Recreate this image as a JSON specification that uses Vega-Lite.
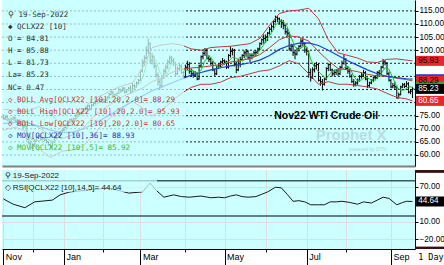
{
"$schema":"https://vega.github.io/schema/vega-lite/v6.json",
"padding":0,
"background":"white",
"spacing":4,
"config":{"view":{"stroke":null,"fill":"#ccffff"}},
"datasets":{
"ohlc":[
{"i":-31,"o":74.5,"h":75.5,"l":73.6,"c":74.0},{"i":-30,"o":74.0,"h":75.2,"l":73.5,"c":74.5},{"i":-29,"o":74.5,"h":75.0,"l":73.0,"c":73.5},{"i":-28,"o":73.5,"h":74.0,"l":72.2,"c":72.8},{"i":-27,"o":72.8,"h":74.2,"l":72.5,"c":73.6},{"i":-26,"o":73.6,"h":74.8,"l":73.2,"c":74.2},{"i":-25,"o":74.2,"h":74.5,"l":72.6,"c":73.0},{"i":-24,"o":73.0,"h":73.4,"l":71.3,"c":71.8},{"i":-23,"o":71.8,"h":73.0,"l":71.5,"c":72.5},{"i":-22,"o":72.5,"h":72.9,"l":71.0,"c":71.5},{"i":-21,"o":71.5,"h":71.8,"l":70.2,"c":70.8},{"i":-20,"o":70.8,"h":72.0,"l":70.5,"c":71.5},{"i":-19,"o":71.0,"h":71.2,"l":65.5,"c":66.0},{"i":-18,"o":66.0,"h":67.5,"l":64.0,"c":64.5},{"i":-17,"o":64.5,"h":65.5,"l":62.0,"c":62.8},{"i":-16,"o":62.8,"h":64.5,"l":62.2,"c":63.5},{"i":-15,"o":63.5,"h":66.0,"l":63.2,"c":65.5},{"i":-14,"o":65.5,"h":67.3,"l":65.0,"c":66.8},{"i":-13,"o":66.8,"h":67.8,"l":66.2,"c":67.2},{"i":-12,"o":67.2,"h":67.5,"l":65.5,"c":66.0},{"i":-11,"o":66.0,"h":67.0,"l":65.6,"c":66.5},{"i":-10,"o":66.5,"h":66.9,"l":65.2,"c":65.8},{"i":-9,"o":65.8,"h":66.2,"l":64.5,"c":65.0},{"i":-8,"o":65.0,"h":65.4,"l":63.5,"c":64.0},{"i":-7,"o":64.0,"h":64.3,"l":62.5,"c":63.0},{"i":-6,"o":63.0,"h":65.4,"l":62.8,"c":65.0},{"i":-5,"o":65.0,"h":66.9,"l":64.7,"c":66.5},{"i":-4,"o":66.5,"h":67.9,"l":66.2,"c":67.5},{"i":-3,"o":67.5,"h":68.5,"l":67.0,"c":68.0},{"i":-2,"o":68.0,"h":69.2,"l":67.6,"c":68.8},{"i":-1,"o":68.8,"h":69.9,"l":68.3,"c":69.5},
{"i":0,"o":69.5,"h":70.9,"l":69.0,"c":70.5},{"i":1,"o":70.5,"h":71.7,"l":70.0,"c":71.3},{"i":2,"o":71.3,"h":72.9,"l":71.0,"c":72.5},{"i":3,"o":72.5,"h":73.9,"l":72.0,"c":73.5},{"i":4,"o":73.5,"h":74.0,"l":72.5,"c":73.0},{"i":5,"o":73.0,"h":74.2,"l":72.7,"c":73.8},{"i":6,"o":73.8,"h":75.4,"l":73.5,"c":75.0},{"i":7,"o":75.0,"h":75.9,"l":74.6,"c":75.5},{"i":8,"o":75.5,"h":76.3,"l":75.0,"c":75.8},{"i":9,"o":75.8,"h":76.9,"l":75.4,"c":76.5},{"i":10,"o":76.5,"h":77.9,"l":76.2,"c":77.5},{"i":11,"o":77.5,"h":78.5,"l":77.0,"c":78.0},{"i":12,"o":78.0,"h":79.2,"l":77.6,"c":78.8},{"i":13,"o":78.8,"h":79.1,"l":77.0,"c":77.5},{"i":14,"o":77.5,"h":79.4,"l":77.2,"c":79.0},{"i":15,"o":79.0,"h":80.2,"l":78.6,"c":79.8},{"i":16,"o":79.8,"h":80.9,"l":79.4,"c":80.5},{"i":17,"o":80.5,"h":81.5,"l":80.0,"c":81.0},{"i":18,"o":81.0,"h":81.3,"l":79.8,"c":80.2},{"i":19,"o":80.2,"h":81.4,"l":79.9,"c":81.0},
{"i":20,"o":81.0,"h":81.5,"l":80.0,"c":80.5},{"i":21,"o":80.5,"h":81.4,"l":80.1,"c":81.0},{"i":22,"o":81.0,"h":82.4,"l":80.7,"c":82.0},{"i":23,"o":82.0,"h":83.6,"l":81.7,"c":83.2},{"i":24,"o":83.2,"h":84.5,"l":82.8,"c":84.0},{"i":25,"o":84.0,"h":84.3,"l":82.0,"c":82.5},{"i":26,"o":82.5,"h":83.4,"l":82.1,"c":83.0},{"i":27,"o":83.0,"h":83.9,"l":82.6,"c":83.5},{"i":28,"o":83.5,"h":85.5,"l":83.2,"c":85.0},{"i":29,"o":85.0,"h":85.3,"l":84.0,"c":84.5},{"i":30,"o":84.5,"h":86.0,"l":84.2,"c":85.5},{"i":31,"o":85.5,"h":85.8,"l":83.5,"c":84.0},{"i":32,"o":84.0,"h":85.2,"l":83.6,"c":84.8},{"i":33,"o":84.8,"h":86.0,"l":84.4,"c":85.5},{"i":34,"o":85.5,"h":86.5,"l":83.2,"c":84.0},{"i":35,"o":84.0,"h":87.5,"l":83.8,"c":86.5},{"i":36,"o":86.5,"h":87.0,"l":85.2,"c":86.0},{"i":37,"o":86.0,"h":88.0,"l":85.7,"c":87.5},{"i":38,"o":87.5,"h":89.0,"l":87.0,"c":88.5},
{"i":39,"o":88.5,"h":92.5,"l":88.0,"c":92.0},{"i":40,"o":92.0,"h":96.5,"l":91.5,"c":95.5},{"i":41,"o":95.5,"h":98.0,"l":94.0,"c":97.0},{"i":42,"o":97.0,"h":101.5,"l":96.5,"c":100.0},{"i":43,"o":100.0,"h":104.5,"l":98.5,"c":102.5},{"i":44,"o":102.5,"h":103.0,"l":95.0,"c":96.0},{"i":45,"o":96.0,"h":99.0,"l":94.5,"c":97.5},{"i":46,"o":97.5,"h":98.0,"l":93.0,"c":94.0},{"i":47,"o":94.0,"h":94.5,"l":89.5,"c":90.5},{"i":48,"o":90.5,"h":91.5,"l":86.5,"c":88.0},{"i":49,"o":88.0,"h":89.0,"l":85.0,"c":86.5},{"i":50,"o":86.5,"h":90.5,"l":85.5,"c":89.5},{"i":51,"o":89.5,"h":93.0,"l":89.0,"c":92.0},{"i":52,"o":92.0,"h":94.5,"l":91.0,"c":93.5},{"i":53,"o":93.5,"h":96.5,"l":92.8,"c":95.5},{"i":54,"o":95.5,"h":98.0,"l":94.5,"c":97.0},{"i":55,"o":97.0,"h":97.8,"l":95.0,"c":96.0},{"i":56,"o":96.0,"h":97.0,"l":94.0,"c":95.0},{"i":57,"o":95.0,"h":95.5,"l":90.0,"c":91.0},{"i":58,"o":91.0,"h":93.8,"l":90.5,"c":93.0},{"i":59,"o":93.0,"h":95.0,"l":92.0,"c":94.0},{"i":60,"o":94.0,"h":94.5,"l":91.0,"c":91.5},{"i":61,"o":91.5,"h":92.0,"l":89.0,"c":89.8},
{"i":62,"o":90.0,"h":94.5,"l":89.5,"c":93.5},{"i":63,"o":93.5,"h":96.0,"l":92.5,"c":94.5},{"i":64,"o":94.5,"h":95.5,"l":91.0,"c":92.0},{"i":65,"o":92.0,"h":93.0,"l":89.8,"c":91.0},{"i":66,"o":91.0,"h":92.0,"l":89.5,"c":90.5},{"i":67,"o":90.5,"h":92.0,"l":89.8,"c":91.2},{"i":68,"o":91.2,"h":91.5,"l":88.5,"c":89.0},{"i":69,"o":89.0,"h":94.5,"l":88.8,"c":94.0},{"i":70,"o":94.0,"h":98.0,"l":93.5,"c":97.5},{"i":71,"o":97.5,"h":99.5,"l":96.5,"c":98.8},{"i":72,"o":98.8,"h":100.8,"l":97.8,"c":100.0},{"i":73,"o":100.0,"h":100.5,"l":96.5,"c":97.0},{"i":74,"o":97.0,"h":98.0,"l":95.5,"c":96.5},{"i":75,"o":96.5,"h":97.2,"l":94.2,"c":95.0},{"i":76,"o":95.0,"h":95.8,"l":92.0,"c":92.5},{"i":77,"o":92.5,"h":93.0,"l":90.2,"c":91.0},{"i":78,"o":91.0,"h":94.2,"l":90.5,"c":93.8},{"i":79,"o":93.8,"h":95.0,"l":92.8,"c":94.0},{"i":80,"o":94.0,"h":96.0,"l":93.2,"c":95.5},{"i":81,"o":95.5,"h":97.0,"l":94.8,"c":96.0},
{"i":82,"o":96.0,"h":96.5,"l":94.5,"c":95.5},{"i":83,"o":95.5,"h":96.0,"l":92.8,"c":93.5},{"i":84,"o":93.5,"h":98.5,"l":93.0,"c":98.0},{"i":85,"o":98.0,"h":101.5,"l":97.2,"c":99.5},{"i":86,"o":99.5,"h":100.8,"l":98.0,"c":100.0},{"i":87,"o":100.0,"h":100.5,"l":93.8,"c":94.5},{"i":88,"o":94.5,"h":95.5,"l":91.2,"c":92.5},{"i":89,"o":92.5,"h":96.8,"l":92.0,"c":96.0},{"i":90,"o":96.0,"h":97.5,"l":93.5,"c":96.5},{"i":91,"o":96.5,"h":98.5,"l":95.8,"c":98.0},{"i":92,"o":98.0,"h":99.8,"l":97.0,"c":99.0},{"i":93,"o":99.0,"h":100.5,"l":97.5,"c":99.5},{"i":94,"o":99.5,"h":100.0,"l":96.5,"c":97.0},{"i":95,"o":97.0,"h":98.8,"l":95.5,"c":98.0},{"i":96,"o":98.0,"h":98.8,"l":96.5,"c":98.2},{"i":97,"o":98.2,"h":99.8,"l":97.5,"c":99.0},{"i":98,"o":99.0,"h":100.0,"l":97.8,"c":99.2},{"i":99,"o":99.2,"h":101.0,"l":98.5,"c":100.5},{"i":100,"o":100.5,"h":103.0,"l":100.0,"c":102.5},{"i":101,"o":102.5,"h":104.5,"l":102.0,"c":104.0},{"i":102,"o":104.0,"h":106.0,"l":102.5,"c":104.5},
{"i":103,"o":104.5,"h":106.0,"l":102.8,"c":105.0},{"i":104,"o":105.0,"h":107.0,"l":103.5,"c":106.5},{"i":105,"o":106.5,"h":108.8,"l":106.0,"c":108.0},{"i":106,"o":108.0,"h":109.8,"l":107.0,"c":109.0},{"i":107,"o":109.0,"h":111.5,"l":107.8,"c":111.0},{"i":108,"o":111.0,"h":113.2,"l":110.5,"c":112.5},{"i":109,"o":112.5,"h":113.0,"l":110.8,"c":112.0},{"i":110,"o":112.0,"h":112.5,"l":109.8,"c":111.0},{"i":111,"o":111.0,"h":111.8,"l":108.5,"c":110.5},{"i":112,"o":110.5,"h":111.5,"l":108.0,"c":109.5},{"i":113,"o":109.5,"h":110.0,"l":106.0,"c":107.0},{"i":114,"o":107.0,"h":108.5,"l":105.0,"c":106.5},{"i":115,"o":106.5,"h":107.0,"l":99.8,"c":100.5},{"i":116,"o":100.5,"h":102.5,"l":99.5,"c":101.5},{"i":117,"o":101.5,"h":102.0,"l":97.8,"c":99.0},{"i":118,"o":99.0,"h":100.0,"l":96.5,"c":98.5},{"i":119,"o":98.5,"h":101.0,"l":98.0,"c":100.5},{"i":120,"o":100.5,"h":102.0,"l":99.5,"c":101.5},{"i":121,"o":101.5,"h":104.5,"l":101.0,"c":103.5},{"i":122,"o":103.5,"h":104.5,"l":101.5,"c":102.5},{"i":123,"o":102.5,"h":103.0,"l":99.0,"c":100.0},
{"i":124,"o":100.0,"h":101.0,"l":98.0,"c":99.5},{"i":125,"o":99.5,"h":100.0,"l":89.5,"c":91.5},{"i":126,"o":91.5,"h":93.0,"l":88.0,"c":89.5},{"i":127,"o":89.5,"h":93.5,"l":89.0,"c":92.5},{"i":128,"o":92.5,"h":95.0,"l":91.5,"c":94.0},{"i":129,"o":94.0,"h":95.5,"l":92.5,"c":94.5},{"i":130,"o":94.5,"h":95.0,"l":88.0,"c":88.5},{"i":131,"o":88.5,"h":90.0,"l":86.5,"c":88.0},{"i":132,"o":88.0,"h":89.0,"l":84.6,"c":87.0},{"i":133,"o":87.0,"h":89.5,"l":86.5,"c":89.0},{"i":134,"o":89.0,"h":93.5,"l":88.5,"c":93.0},{"i":135,"o":93.0,"h":95.0,"l":92.0,"c":94.5},{"i":136,"o":94.5,"h":95.0,"l":92.0,"c":92.5},{"i":137,"o":92.5,"h":93.0,"l":90.0,"c":91.0},{"i":138,"o":91.0,"h":92.5,"l":90.2,"c":91.5},{"i":139,"o":91.5,"h":92.8,"l":90.5,"c":92.0},{"i":140,"o":92.0,"h":93.0,"l":90.2,"c":91.0},{"i":141,"o":91.0,"h":94.0,"l":90.5,"c":93.5},{"i":142,"o":93.5,"h":96.0,"l":93.0,"c":95.0},{"i":143,"o":95.0,"h":98.2,"l":94.5,"c":96.5},
{"i":144,"o":96.5,"h":97.0,"l":92.5,"c":93.0},{"i":145,"o":93.0,"h":94.0,"l":91.0,"c":92.0},{"i":146,"o":92.0,"h":93.0,"l":89.5,"c":90.0},{"i":147,"o":90.0,"h":90.8,"l":87.5,"c":88.0},{"i":148,"o":88.0,"h":89.0,"l":86.0,"c":87.0},{"i":149,"o":87.0,"h":88.2,"l":86.2,"c":87.5},{"i":150,"o":87.5,"h":89.2,"l":86.8,"c":88.5},{"i":151,"o":88.5,"h":90.5,"l":88.0,"c":90.0},{"i":152,"o":90.0,"h":91.5,"l":89.2,"c":90.5},{"i":153,"o":90.5,"h":92.5,"l":89.8,"c":91.5},{"i":154,"o":91.5,"h":92.0,"l":88.5,"c":89.0},{"i":155,"o":89.0,"h":89.5,"l":85.5,"c":86.5},{"i":156,"o":86.5,"h":88.0,"l":85.8,"c":87.5},{"i":157,"o":87.5,"h":89.0,"l":87.0,"c":88.5},{"i":158,"o":88.5,"h":90.0,"l":87.8,"c":89.5},{"i":159,"o":89.5,"h":90.5,"l":88.5,"c":89.5},{"i":160,"o":89.5,"h":92.0,"l":89.0,"c":91.5},{"i":161,"o":91.5,"h":92.5,"l":90.0,"c":91.0},{"i":162,"o":91.0,"h":94.0,"l":90.5,"c":93.5},{"i":163,"o":93.5,"h":96.7,"l":93.0,"c":95.5},{"i":164,"o":95.5,"h":96.2,"l":94.2,"c":95.0},{"i":165,"o":95.0,"h":95.5,"l":90.5,"c":91.0},{"i":166,"o":91.0,"h":91.8,"l":88.0,"c":88.5},
{"i":167,"o":88.5,"h":89.0,"l":85.5,"c":86.0},{"i":168,"o":86.0,"h":87.5,"l":85.5,"c":86.5},{"i":169,"o":86.5,"h":88.0,"l":85.0,"c":86.0},{"i":170,"o":86.0,"h":86.5,"l":81.5,"c":81.8},{"i":171,"o":81.8,"h":83.8,"l":81.6,"c":83.0},{"i":172,"o":83.0,"h":86.5,"l":82.8,"c":86.0},{"i":173,"o":86.0,"h":87.5,"l":85.5,"c":86.8},{"i":174,"o":86.8,"h":87.5,"l":85.5,"c":86.2},{"i":175,"o":86.2,"h":88.2,"l":85.8,"c":87.2},{"i":176,"o":87.2,"h":87.8,"l":83.5,"c":84.0},{"i":177,"o":84.0,"h":85.2,"l":83.2,"c":84.2},{"i":178,"o":84.81,"h":85.88,"l":81.73,"c":85.23}
],
"ind":[
{"i":-31,"bu":77.5,"bm":73.5,"bl":69.5,"m36":72.0},{"i":-25,"bu":77.0,"bm":73.8,"bl":70.6,"m36":72.5},{"i":-19,"bu":76.5,"bm":72.8,"bl":69.0,"m36":72.3},{"i":-13,"bu":78.5,"bm":70.5,"bl":62.5,"m36":71.0},{"i":-7,"bu":76.0,"bm":67.5,"bl":59.0,"m36":69.5},{"i":-1,"bu":71.0,"bm":66.3,"bl":61.5,"m36":68.5},{"i":5,"bu":73.5,"bm":67.8,"bl":62.0,"m36":68.8},{"i":10,"bu":77.5,"bm":70.5,"bl":63.5,"m36":70.0},{"i":15,"bu":81.5,"bm":74.5,"bl":67.5,"m36":71.8},{"i":20,"bu":83.0,"bm":77.5,"bl":72.0,"m36":73.8},{"i":25,"bu":85.0,"bm":80.0,"bl":75.0,"m36":76.0},{"i":30,"bu":86.5,"bm":82.3,"bl":78.0,"m36":78.3},{"i":35,"bu":87.5,"bm":84.0,"bl":80.5,"m36":80.5},{"i":40,"bu":93.0,"bm":85.5,"bl":78.0,"m36":82.5},{"i":45,"bu":101.0,"bm":88.0,"bl":75.0,"m36":84.5},{"i":50,"bu":102.0,"bm":89.5,"bl":77.0,"m36":86.0},{"i":55,"bu":102.5,"bm":91.5,"bl":80.5,"m36":87.5},{"i":60,"bu":102.0,"bm":92.8,"bl":83.5,"m36":89.0},{"i":65,"bu":100.5,"bm":93.2,"bl":85.8,"m36":90.5},{"i":70,"bu":100.0,"bm":93.5,"bl":87.0,"m36":91.5},{"i":75,"bu":101.0,"bm":94.0,"bl":87.0,"m36":92.5},{"i":80,"bu":101.3,"bm":94.5,"bl":87.8,"m36":93.3},{"i":85,"bu":101.5,"bm":95.5,"bl":89.5,"m36":94.0},{"i":90,"bu":102.0,"bm":96.0,"bl":90.0,"m36":94.5},{"i":95,"bu":102.5,"bm":96.8,"bl":91.0,"m36":95.2},{"i":100,"bu":104.5,"bm":98.3,"bl":92.0,"m36":96.2},{"i":105,"bu":109.5,"bm":101.0,"bl":92.5,"m36":98.0},{"i":110,"bu":114.0,"bm":104.0,"bl":94.0,"m36":100.3},{"i":115,"bu":115.0,"bm":105.5,"bl":96.0,"m36":101.8},{"i":120,"bu":115.3,"bm":105.0,"bl":94.8,"m36":102.7},{"i":125,"bu":116.0,"bm":103.5,"bl":91.0,"m36":102.8},{"i":130,"bu":112.0,"bm":99.5,"bl":87.0,"m36":101.8},{"i":135,"bu":104.0,"bm":96.0,"bl":88.0,"m36":100.0},{"i":140,"bu":99.0,"bm":93.0,"bl":87.0,"m36":98.0},{"i":145,"bu":98.0,"bm":92.5,"bl":87.0,"m36":96.0},{"i":150,"bu":97.0,"bm":91.8,"bl":86.5,"m36":94.2},{"i":155,"bu":95.5,"bm":90.8,"bl":86.0,"m36":92.5},{"i":160,"bu":95.3,"bm":90.2,"bl":85.2,"m36":91.0},{"i":165,"bu":96.5,"bm":90.0,"bl":83.5,"m36":90.0},{"i":170,"bu":96.7,"bm":89.3,"bl":82.0,"m36":89.5},{"i":175,"bu":96.2,"bm":88.8,"bl":81.4,"m36":89.1},{"i":178,"bu":95.93,"bm":88.29,"bl":80.65,"m36":88.93}
],
"m5":[
{"i":-29,"v":74.0},{"i":-25,"v":73.6},{"i":-21,"v":72.0},{"i":-17,"v":66.0},{"i":-13,"v":65.5},{"i":-9,"v":66.2},{"i":-5,"v":65.0},{"i":-1,"v":68.0},{"i":3,"v":71.5},{"i":7,"v":74.5},{"i":11,"v":77.0},{"i":15,"v":78.8},{"i":19,"v":80.5},{"i":23,"v":81.5},{"i":27,"v":83.2},{"i":31,"v":84.7},{"i":35,"v":85.0},{"i":39,"v":87.5},{"i":41,"v":91.5},{"i":43,"v":97.5},{"i":45,"v":98.5},{"i":47,"v":96.0},{"i":49,"v":91.5},{"i":51,"v":89.5},{"i":53,"v":91.5},{"i":55,"v":94.8},{"i":57,"v":94.8},{"i":59,"v":94.0},
{"i":60,"v":92.9},{"i":62,"v":92.4},{"i":64,"v":92.3},{"i":66,"v":92.3},{"i":68,"v":90.7},{"i":70,"v":92.4},{"i":72,"v":95.9},{"i":74,"v":98.0},{"i":76,"v":96.2},{"i":78,"v":93.8},{"i":80,"v":93.4},{"i":82,"v":95.0},{"i":84,"v":95.7},{"i":86,"v":97.3},{"i":88,"v":96.9},{"i":90,"v":95.9},{"i":92,"v":96.4},{"i":94,"v":98.0},{"i":96,"v":98.3},{"i":98,"v":98.3},{"i":100,"v":99.9},{"i":102,"v":102.1},{"i":104,"v":104.5},{"i":106,"v":106.6},{"i":108,"v":109.4},{"i":110,"v":111.1},{"i":112,"v":111.1},{"i":114,"v":108.9},{"i":116,"v":105.0},{"i":118,"v":101.2},{"i":120,"v":100.2},{"i":122,"v":101.3},{"i":124,"v":101.4},{"i":126,"v":96.6},{"i":128,"v":93.4},{"i":130,"v":91.8},{"i":132,"v":90.4},{"i":134,"v":89.1},{"i":136,"v":91.2},{"i":138,"v":92.5},{"i":140,"v":91.6},{"i":142,"v":92.6},{"i":144,"v":93.8},{"i":146,"v":93.3},{"i":148,"v":90.0},{"i":150,"v":88.2},{"i":152,"v":88.7},{"i":154,"v":89.9},{"i":156,"v":89.0},{"i":158,"v":88.2},{"i":160,"v":89.3},{"i":162,"v":91.0},{"i":164,"v":93.3},{"i":166,"v":92.7},{"i":168,"v":89.4},{"i":170,"v":85.8},{"i":172,"v":84.7},{"i":174,"v":84.8},{"i":176,"v":86.0},{"i":178,"v":85.92}
],
"rsi":[
{"i":-31,"v":49},{"i":-26,"v":40},{"i":-20,"v":34},{"i":-15,"v":44},{"i":-6,"v":47},{"i":-2,"v":56},{"i":3,"v":61},{"i":12,"v":64},{"i":23,"v":68},{"i":33,"v":59},{"i":40,"v":61},{"i":44,"v":76},{"i":47,"v":64},{"i":51,"v":52},{"i":56,"v":56},{"i":60,"v":53},{"i":64,"v":52},{"i":70,"v":54},{"i":75,"v":51},{"i":79,"v":52},{"i":82,"v":51},{"i":85,"v":54},{"i":88,"v":56},{"i":91,"v":53},{"i":94,"v":52},{"i":98,"v":53},{"i":101,"v":57},{"i":104,"v":61},{"i":108,"v":69},{"i":111,"v":68},{"i":114,"v":57},{"i":117,"v":45},{"i":120,"v":46},{"i":123,"v":44},{"i":126,"v":39},{"i":130,"v":39},{"i":133,"v":39},{"i":136,"v":44},{"i":139,"v":44},{"i":142,"v":45},{"i":146,"v":43},{"i":150,"v":40},{"i":153,"v":44},{"i":157,"v":42},{"i":160,"v":47},{"i":163,"v":52},{"i":166,"v":50},{"i":170,"v":39},{"i":173,"v":43},{"i":175,"v":45},{"i":178,"v":44.64}
],
"boxes":[
{"v":95.93,"t":"95.93","s":"bx_boll"},{"v":88.93,"t":"88.93","s":"bx_mov36"},{"v":88.29,"t":"88.29","s":"bx_boll"},{"v":85.92,"t":"85.92","s":"bx_mov5"},{"v":85.23,"t":"85.23","s":"bx_last"},{"v":80.65,"t":"80.65","s":"bx_boll"}
],
"levels":[{"p":60},{"p":65},{"p":70},{"p":75},{"p":80},{"p":85},{"p":90},{"p":95},{"p":100},{"p":105},{"p":110},{"p":115}]
},
"vconcat":[
{"width":413,"height":166,
"layer":[
{"data":{"name":"levels"},"mark":{"type":"rule","color":"#222","strokeWidth":1,"strokeDash":[2,2]},
"encoding":{"x":{"datum":-31.7,"type":"quantitative","scale":{"domain":[-31.7,179.3],"nice":false,"zero":false},"axis":{"orient":"bottom","title":null,"labels":false,"ticks":false,"domainColor":"#808080","domainWidth":2}},"x2":{"datum":179.3},
"y":{"field":"p","type":"quantitative","scale":{"domain":[55.8,119.16],"nice":false,"zero":false},"axis":{"orient":"right","title":null,"values":[60,65,70,75,100,105,110,115],"tickCount":40,"format":".2f","grid":false,"tickSize":3,"labelPadding":1,"labelOverlap":false,"labelBound":false,"labelFont":"Liberation Sans","labelFontSize":8.2,"labelColor":"#000","domainColor":"#000","tickColor":"#000"}}}},
{"data":{"name":"ohlc"},"mark":{"type":"rule","color":"#000","strokeWidth":1},
"encoding":{"x":{"field":"i","type":"quantitative"},"y":{"field":"l","type":"quantitative"},"y2":{"field":"h"}}},
{"data":{"name":"ohlc"},"mark":{"type":"tick","orient":"horizontal","size":2,"thickness":1,"xOffset":-1,"color":"#000"},
"encoding":{"x":{"field":"i","type":"quantitative"},"y":{"field":"o","type":"quantitative"}}},
{"data":{"name":"ohlc"},"mark":{"type":"tick","orient":"horizontal","size":2,"thickness":1,"xOffset":1,"color":"#000"},
"encoding":{"x":{"field":"i","type":"quantitative"},"y":{"field":"c","type":"quantitative"}}},
{"data":{"name":"ind"},"mark":{"type":"line","color":"#c03a3a","strokeWidth":1},
"encoding":{"x":{"field":"i","type":"quantitative"},"y":{"field":"bu","type":"quantitative"}}},
{"data":{"name":"ind"},"mark":{"type":"line","color":"#c03a3a","strokeWidth":1},
"encoding":{"x":{"field":"i","type":"quantitative"},"y":{"field":"bm","type":"quantitative"}}},
{"data":{"name":"ind"},"mark":{"type":"line","color":"#c03a3a","strokeWidth":1},
"encoding":{"x":{"field":"i","type":"quantitative"},"y":{"field":"bl","type":"quantitative"}}},
{"data":{"name":"ind"},"mark":{"type":"line","color":"#2040d0","strokeWidth":1.2},
"encoding":{"x":{"field":"i","type":"quantitative"},"y":{"field":"m36","type":"quantitative"}}},
{"data":{"name":"m5"},"mark":{"type":"line","color":"#22c022","strokeWidth":1},
"encoding":{"x":{"field":"i","type":"quantitative"},"y":{"field":"v","type":"quantitative"}}},
{"data":{"values":[{}]},"mark":{"type":"rect","color":"#ccffff","opacity":0.72},
"encoding":{"x":{"datum":-31.7,"type":"quantitative"},"x2":{"datum":61.3},"y":{"datum":119.16,"type":"quantitative"},"y2":{"datum":57.5}}},
{"data":{"values":[{}]},"mark":{"type":"text","text":"Nov22 WTI Crude Oil","font":"Liberation Sans","fontWeight":"bold","fontSize":10.5,"color":"#000","align":"center","baseline":"middle"},
"encoding":{"x":{"datum":133.9,"type":"quantitative"},"y":{"datum":74.9,"type":"quantitative"}}},
{"data":{"values":[{}]},"mark":{"type":"text","text":"Prophet X","font":"Liberation Sans","fontWeight":"bold","fontSize":15,"color":"#9ab8c4","opacity":0.45,"align":"center","baseline":"middle"},
"encoding":{"x":{"datum":146.7,"type":"quantitative"},"y":{"datum":67.6,"type":"quantitative"}}},
{"data":{"values":[{}]},"mark":{"type":"text","text":"powered by DTN","font":"Liberation Sans","fontSize":5,"color":"#9ab8c4","opacity":0.6,"align":"center","baseline":"middle"},
"encoding":{"x":{"datum":155,"type":"quantitative"},"y":{"datum":62.3,"type":"quantitative"}}},
{"data":{"values":[{}]},"mark":{"type":"text","text":["⚲ 19-Sep-2022","◆ QCLX22 [10]","O = 84.81","H = 85.88","L = 81.73","La= 85.23","NC= 0.47"],"font":"DejaVu Sans Mono","fontSize":7.5,"lineHeight":12.09,"align":"left","baseline":"top","color":"#303030"},
"encoding":{"x":{"datum":-28.6,"type":"quantitative"},"y":{"datum":114.96,"type":"quantitative"}}},
{"data":{"values":[{}]},"mark":{"type":"text","text":["◇ BOLL Avg[QCLX22 [10],20,2.0]= 88.29","◇ BOLL High[QCLX22 [10],20,2.0]= 95.93","◇ BOLL Low[QCLX22 [10],20,2.0]= 80.65"],"font":"DejaVu Sans Mono","fontSize":7.5,"lineHeight":12.09,"align":"left","baseline":"top","color":"#cc3333"},
"encoding":{"x":{"datum":-28.6,"type":"quantitative"},"y":{"datum":82.67,"type":"quantitative"}}},
{"data":{"values":[{}]},"mark":{"type":"text","text":"◇ MOV[QCLX22 [10],36]= 88.93","font":"DejaVu Sans Mono","fontSize":7.5,"align":"left","baseline":"top","color":"#2233bb"},
"encoding":{"x":{"datum":-28.6,"type":"quantitative"},"y":{"datum":68.82,"type":"quantitative"}}},
{"data":{"values":[{}]},"mark":{"type":"text","text":"◇ MOV[QCLX22 [10],5]= 85.92","font":"DejaVu Sans Mono","fontSize":7.5,"align":"left","baseline":"top","color":"#33bb33"},
"encoding":{"x":{"datum":-28.6,"type":"quantitative"},"y":{"datum":64.19,"type":"quantitative"}}},
{"data":{"name":"boxes"},"mark":{"type":"rect","height":10,"clip":false},
"encoding":{"x":{"datum":179.85,"type":"quantitative"},"x2":{"datum":195.2},"y":{"field":"v","type":"quantitative"},
"color":{"field":"s","type":"nominal","legend":null,"scale":{"domain":["bx_boll","bx_mov36","bx_mov5","bx_last"],"range":["#e8262b","#2040d0","#22c022","#000000"]}}}},
{"data":{"name":"boxes"},"transform":[{"filter":"datum.s!='bx_mov36'&&datum.s!='bx_mov5'"}],"mark":{"type":"text","align":"left","baseline":"middle","font":"Liberation Sans","fontSize":8.2,"clip":false},
"encoding":{"x":{"datum":180.9,"type":"quantitative"},"y":{"field":"v","type":"quantitative"},"text":{"field":"t"},
"color":{"condition":{"test":"datum.s=='bx_last'||datum.v<82","value":"#ffffff"},"value":"#1a0000"}}}
]},
{"width":413,"height":79,
"layer":[
{"data":{"values":[{"lv":80},{"lv":20}]},"mark":{"type":"rule","color":"#3a5c5c","strokeWidth":1.5},
"encoding":{"y":{"field":"lv","type":"quantitative","scale":{"domain":[-36.6,98.5],"nice":false,"zero":false},"axis":{"orient":"right","title":null,"values":[70,10,-20],"tickCount":40,"format":".2f","tickSize":3,"labelPadding":1,"labelOverlap":false,"labelBound":false,"labelFont":"Liberation Sans","labelFontSize":8.2,"labelColor":"#000","domainColor":"#000","tickColor":"#000"}}}},
{"data":{"name":"rsi"},"mark":{"type":"line","color":"#1a1a1a","strokeWidth":1},
"encoding":{"x":{"field":"i","type":"quantitative","scale":{"domain":[-31.7,179.3],"nice":false,"zero":false},
"axis":{"orient":"bottom","title":null,"values":[-31,-16,0,20,39,62,82,103,124,144,167],"tickCount":60,"labelExpr":"datum.value==-31?'Nov':datum.value==0?'Jan':datum.value==39?'Mar':datum.value==82?'May':datum.value==124?'Jul':datum.value==167?'Sep':''","labelAlign":"left","labelOffset":2,"labelPadding":-13,"labelFlush":false,"labelOverlap":false,"labelBound":false,"labelBaseline":"top","labelFont":"Liberation Sans","labelFontSize":9,"labelColor":"#000","domainColor":"#000","tickColor":"#000","tickSize":{"condition":{"test":"datum.value==-31||datum.value==0||datum.value==39||datum.value==82||datum.value==124||datum.value==167","value":16},"value":3}}},
"y":{"field":"v","type":"quantitative"}}},
{"data":{"values":[{}]},"mark":{"type":"rect","color":"#ccffff","opacity":0.72},
"encoding":{"x":{"datum":-31.7,"type":"quantitative"},"x2":{"datum":47.5},"y":{"datum":98.5,"type":"quantitative"},"y2":{"datum":61}}},
{"data":{"values":[{}]},"mark":{"type":"text","text":["⚲ 19-Sep-2022","◇ RSI[QCLX22 [10],14,5]= 44.64"],"font":"Liberation Sans","fontSize":8,"lineHeight":12,"align":"left","baseline":"top","color":"#202020"},
"encoding":{"x":{"datum":-30.4,"type":"quantitative"},"y":{"datum":95.1,"type":"quantitative"}}},
{"data":{"values":[{}]},"mark":{"type":"rect","color":"#3c0f0f","clip":false},
"encoding":{"x":{"datum":179.3,"type":"quantitative"},"x2":{"datum":195.2},"y":{"datum":98.5,"type":"quantitative"},"y2":{"datum":93.6}}},
{"data":{"values":[{}]},"mark":{"type":"rect","color":"#3c0f0f","clip":false},
"encoding":{"x":{"datum":179.3,"type":"quantitative"},"x2":{"datum":195.2},"y":{"datum":-32.5,"type":"quantitative"},"y2":{"datum":-36.6}}},
{"data":{"values":[{"v":44.64,"t":"44.64"}]},"mark":{"type":"rect","height":10,"color":"#000","clip":false},
"encoding":{"x":{"datum":179.85,"type":"quantitative"},"x2":{"datum":195.2},"y":{"field":"v","type":"quantitative"}}},
{"data":{"values":[{"v":44.64,"t":"44.64"}]},"mark":{"type":"text","align":"left","baseline":"middle","font":"Liberation Sans","fontSize":8.2,"color":"#fff","clip":false},
"encoding":{"x":{"datum":180.9,"type":"quantitative"},"y":{"field":"v","type":"quantitative"},"text":{"field":"t"}}},
{"data":{"values":[{}]},"mark":{"type":"text","text":"1 Day","align":"left","baseline":"middle","font":"DejaVu Sans Mono","fontSize":8.5,"color":"#000","clip":false},
"encoding":{"x":{"datum":180.9,"type":"quantitative"},"y":{"datum":-50,"type":"quantitative"}}}
]}
]
}
